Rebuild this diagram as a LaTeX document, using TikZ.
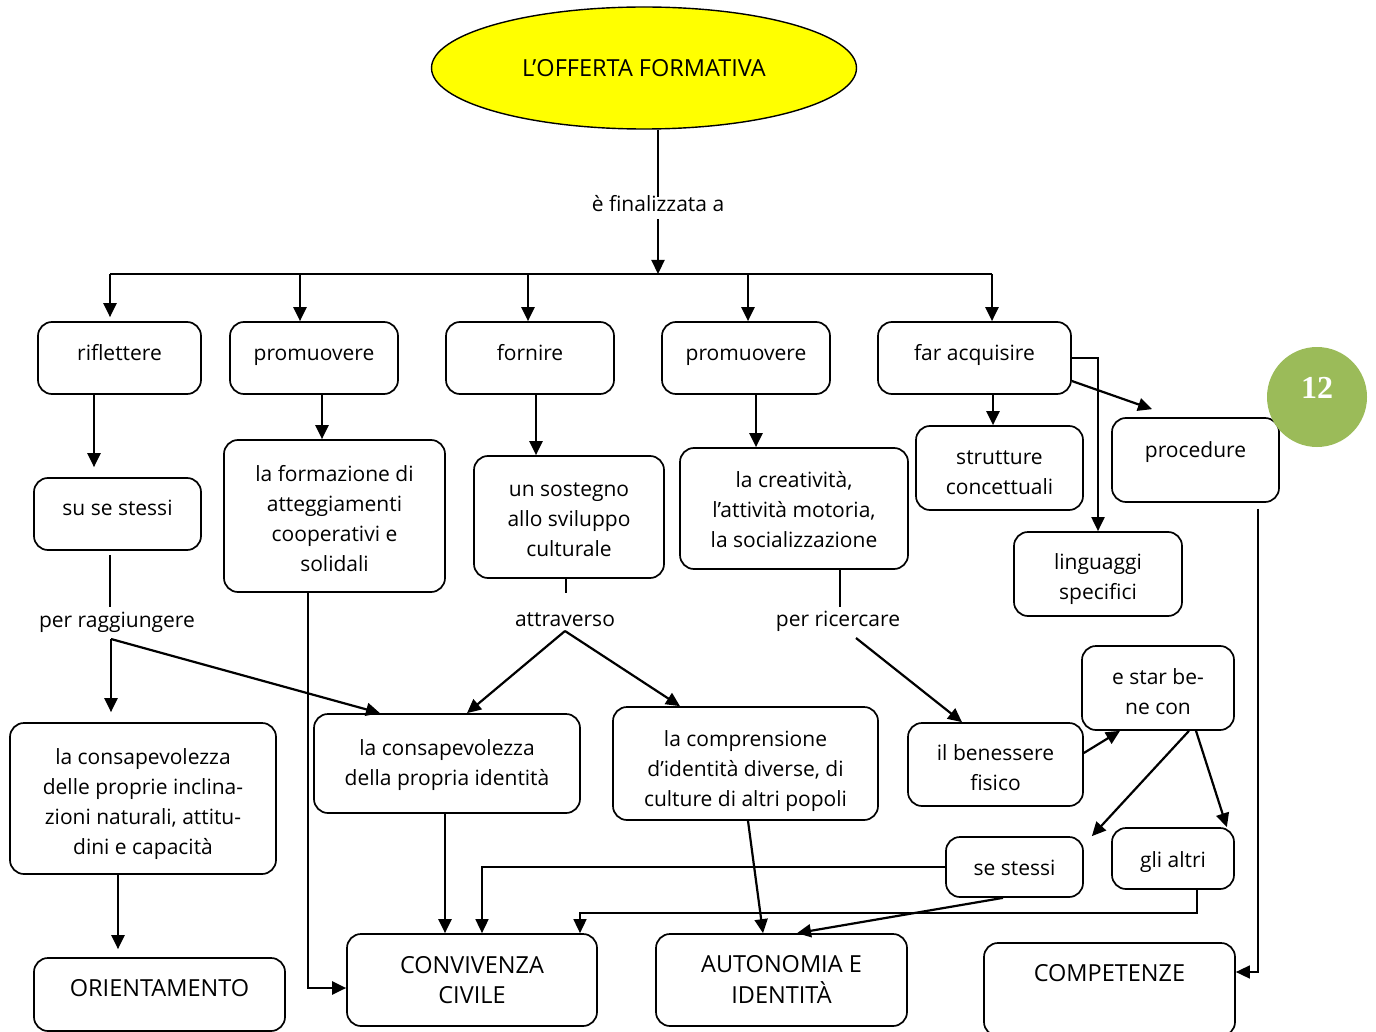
\documentclass[tikz,border=0pt]{standalone}
\usepackage{fontspec}
\setmainfont{Open Sans}
\newfontfamily\numfont{Liberation Serif}
\usetikzlibrary{shapes.geometric,arrows.meta}
\definecolor{badgegreen}{HTML}{9BBB59}
\definecolor{titleyellow}{HTML}{FFFF00}
\newcommand\capsize{\fontsize{23.5}{30}\selectfont}
\newcommand\mkbox[7]{\node[box,minimum width={#4-#2},minimum height={#5-#3}] (#1) at ({(#2+#4)/2},{(#3+#5)/2}) {\raisebox{\fpeval{(#3+#5)/2-(#6)-2}pt}[\height][\depth]{\begin{tabular}{@{}c@{}}#7\end{tabular}}};}
\begin{document}
\begin{tikzpicture}[x=1pt,y=-1pt,
  every node/.style={font=\fontsize{21}{30}\selectfont},
  box/.style={draw,line width=1.7pt,rounded corners=14pt,inner sep=0pt,fill=white},
  lbl/.style={inner sep=2pt,text height=13pt,text depth=5pt},
  arr/.style={-{Triangle[length=14pt,width=13pt]},line width=2.2pt},
  thinarr/.style={-{Triangle[length=14pt,width=13pt]},line width=1.6pt}]
\useasboundingbox (0,0) rectangle (1376,1032);
\fill[white] (0,0) rectangle (1376,1032);

% title
\node[ellipse,draw,line width=1.4pt,fill=titleyellow,minimum width=425,minimum height=122,inner sep=0pt,font=\capsize] (ell) at (644,68) {L’OFFERTA FORMATIVA};
\node[lbl] (fin) at (658,208) {è finalizzata a};

% boxes
\mkbox{rif}{38}{322}{201}{394}{352}{riflettere}
\mkbox{prom1}{230}{322}{398}{394}{352}{promuovere}
\mkbox{forn}{446}{322}{614}{394}{352}{fornire}
\mkbox{prom2}{662}{322}{830}{394}{352}{promuovere}
\mkbox{far}{878}{322}{1071}{394}{352}{far acquisire}
\mkbox{suse}{34}{478}{201}{550}{507}{su se stessi}
\mkbox{form}{224}{440}{445}{592}{518}{la formazione di\\atteggiamenti\\cooperativi e\\solidali}
\mkbox{sost}{474}{456}{664}{578}{518}{un sostegno\\allo sviluppo\\culturale}
\mkbox{crea}{680}{448}{908}{569}{509}{la creatività,\\l’attività motoria,\\la socializzazione}
\mkbox{strut}{916}{426}{1083}{510}{471}{strutture\\concettuali}
\mkbox{proc}{1112}{418}{1279}{502}{449}{procedure}
\mkbox{ling}{1014}{532}{1182}{616}{576.5}{linguaggi\\specifici}
\mkbox{incl}{10}{723}{276}{874}{801}{la consapevolezza\\delle proprie inclina-\\zioni naturali, attitu-\\dini e capacità}
\mkbox{ident}{314}{714}{580}{813}{762}{la consapevolezza\\della propria identità}
\mkbox{compr}{613}{707}{878}{820}{768}{la comprensione\\d’identità diverse, di\\culture di altri popoli}
\mkbox{ben}{908}{723}{1083}{806}{767.5}{il benessere\\fisico}
\mkbox{star}{1082}{646}{1234}{730}{691.5}{e star be-\\ne con}
\mkbox{sest}{946}{837}{1083}{897}{867}{se stessi}
\mkbox{altri}{1112}{828}{1234}{889}{859}{gli altri}
\mkbox{orient}{34}{958}{285}{1031}{988}{\capsize ORIENTAMENTO}
\mkbox{conv}{347}{934}{597}{1026}{980}{\capsize CONVIVENZA\\\capsize CIVILE}
\mkbox{auto}{656}{934}{907}{1026}{980}{\capsize AUTONOMIA E\\\capsize IDENTITÀ}
\mkbox{comp}{984}{943}{1235}{1036}{973}{\capsize COMPETENZE}

% labels
\node[lbl] (rag) at (117,623) {per raggiungere};
\node[lbl] (att) at (565,622) {attraverso};
\node[lbl] (ric) at (838,622) {per ricercare};

% badge
\node[circle,fill=badgegreen,minimum size=100,inner sep=0pt] (badge) at (1317,397) {\raisebox{9pt}[\height][\depth]{\numfont\bfseries\fontsize{32}{32}\selectfont\color{white}12}};

% junctions
\coordinate (bus) at (658,274);
\coordinate (b1) at (110,274);
\coordinate (b2) at (300,274);
\coordinate (b3) at (528,274);
\coordinate (b4) at (748,274);
\coordinate (b5) at (992,274);
\coordinate (rj) at (111,639);
\coordinate (aj) at (565,631);
\coordinate (cj) at (856,638);

% title connectors
\draw[line width=1.6pt] (ell.south -| fin) -- (fin.north);
\draw[arr] (fin.south) -- (bus);
\draw[line width=2pt] (b1) -- (b5);
\draw[arr] (b1) -- ([yshift=4pt]b1 |- rif.north);
\draw[arr] (b2) -- (b2 |- prom1.north);
\draw[arr] (b3) -- (b3 |- forn.north);
\draw[arr] (b4) -- (b4 |- prom2.north);
\draw[arr] (b5) -- (b5 |- far.north);

% column 1
\draw[arr,shorten >=10pt] (94,0 |- rif.south) -- (94,0 |- suse.north);
\draw[line width=1.6pt,shorten <=4pt] (110,0 |- suse.south) -- (110,607);
\draw[arr,shorten >=10pt] (rj) -- (rj |- incl.north);
\draw[arr] (rj) -- (380,0 |- ident.north);
\draw[arr,shorten >=8pt] (118,0 |- incl.south) -- (118,0 |- orient.north);

% column 2
\draw[arr] (322,0 |- prom1.south) -- (322,0 |- form.north);
\draw[arr] (308,0 |- form.south) |- ([yshift=-8pt]conv.west);

% column 3
\draw[arr] (536,0 |- forn.south) -- (536,0 |- sost.north);
\draw[line width=1.6pt] (566,0 |- sost.south) -- ++(0,14);
\draw[arr] (aj) -- (467,0 |- ident.north);
\draw[arr] (aj) -- (680,0 |- compr.north);
\draw[arr] (445,0 |- ident.south) -- (445,0 |- conv.north);
\draw[arr] ([xshift=2.5pt]compr.south) -- ([xshift=-18.5pt]auto.north);

% column 4
\draw[arr] (756,0 |- prom2.south) -- (756,0 |- crea.north);
\draw[line width=1.6pt] (840,0 |- crea.south) -- (840,607);
\draw[arr] (cj) -- (962,0 |- ben.north);
\draw[arr] ([yshift=11.5pt]ben.east) -- ([xshift=-38pt]star.south);
\draw[arr] ([xshift=31pt]star.south) -- ([xshift=8pt]sest.north east);
\draw[arr] ([xshift=38pt]star.south) -- ([xshift=-8pt]altri.north east);
\draw[thinarr] (sest.west) -| (482,0 |- conv.north);
\draw[arr] ([xshift=-11.5pt]sest.south) -- ([xshift=15.5pt]auto.north);
\draw[thinarr] ([xshift=24pt]altri.south) -- ++(0,23) -| (580,0 |- conv.north);

% column 5
\draw[arr] (993,0 |- far.south) -- (993,0 |- strut.north);
\draw[arr,line width=2pt] (far.east) -| (ling.north);
\draw[arr] ([yshift=-23pt]far.east) -- ([xshift=-43.5pt,yshift=8pt]proc.north);
\draw[thinarr] (1258,0 |- proc.south) ++(0,6) |- ([yshift=17.5pt]comp.east);
\end{tikzpicture}
\end{document}
